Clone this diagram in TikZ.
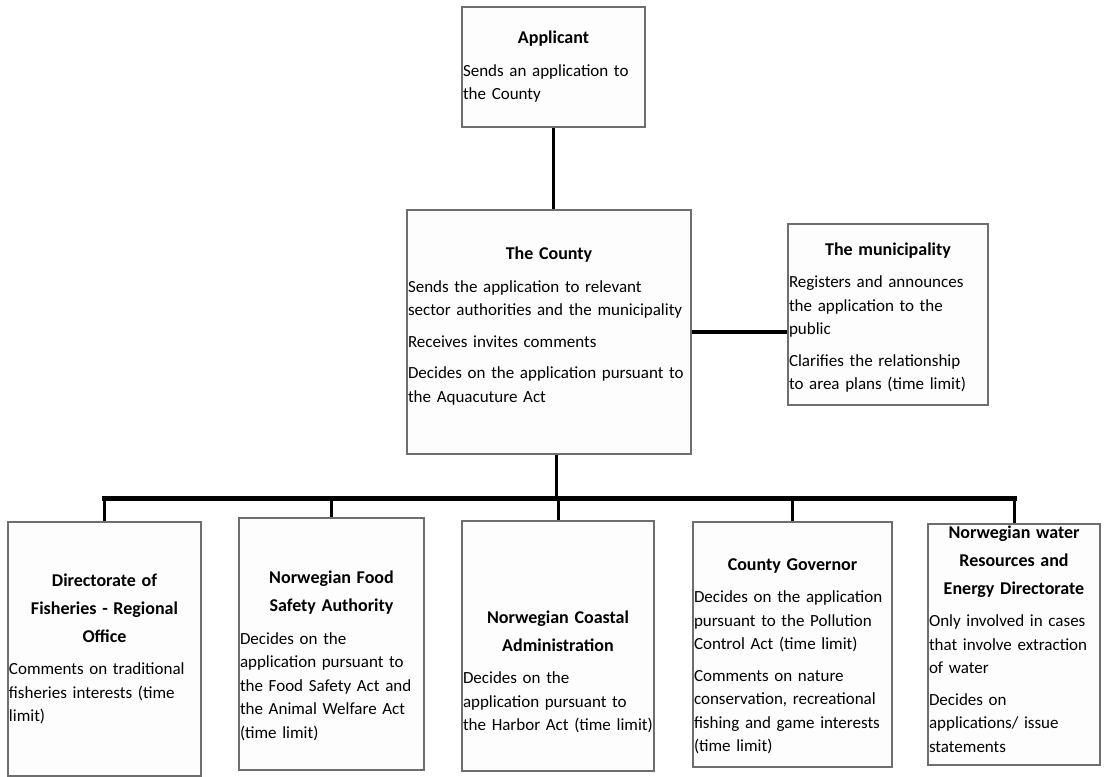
\documentclass[tikz,border=0pt]{standalone}
\usepackage{fontspec}
\setmainfont{Carlito}
\definecolor{boxline}{HTML}{6E6E6E}
\definecolor{boxfill}{HTML}{FDFDFD}
\newcommand{\boxtitle}[1]{{\centering\fontsize{18}{28}\selectfont\bfseries #1\par}\vspace{9pt}}
\newcommand{\boxgap}{\par\vspace{8pt}}
\tikzset{
  orgbox/.style={draw=boxline, fill=boxfill, line width=1.1pt, inner sep=0pt},
  orgtext/.style={inner xsep=1pt, inner ysep=0pt, align=left,
                  font=\fontsize{17}{23.5}\selectfont},
  link/.style={line width=3pt},
  busline/.style={line width=5pt, line cap=rect},
}

\begin{document}
\begin{tikzpicture}[x=1pt, y=-1pt]
  \useasboundingbox (0,0) rectangle (1104,777);

  % boxes
  \node[orgbox, minimum width=183pt, minimum height=120pt] (applicant) at (553.5,67) {};
  \node[orgbox, minimum width=284pt, minimum height=244pt] (county) at (549,332) {};
  \node[orgbox, minimum width=200pt, minimum height=181pt] (municipality) at (888,314.5) {};
  \node[orgbox, minimum width=193pt, minimum height=254pt] (dir) at (104.5,649) {};
  \node[orgbox, minimum width=185pt, minimum height=252pt] (food) at (331.5,644) {};
  \node[orgbox, minimum width=192pt, minimum height=250pt] (coast) at (558,646) {};
  \node[orgbox, minimum width=199pt, minimum height=245pt] (gov) at (792.5,644.5) {};
  \node[orgbox, minimum width=172pt, minimum height=241pt] (nve) at (1014,644.5) {};

  % texts
  \node[orgtext, text width=181pt] (applicanttxt) at (applicant) {%
    \boxtitle{Applicant}
    Sends an application to\\ the County};
  \node[orgtext, text width=282pt] (countytxt) at ([yshift=6pt]county) {%
    \boxtitle{The County}
    Sends the application to relevant\\ sector authorities and the municipality\boxgap
    Receives invites comments\boxgap
    Decides on the application pursuant to\\ the Aquacuture Act};
  \node[orgtext, text width=198pt] (municipalitytxt) at ([yshift=-3pt]municipality) {%
    \boxtitle{The municipality}
    Registers and announces\\ the application to the\\ public\boxgap
    Clarifies the relationship\\ to area plans (time limit)};
  \node[orgtext, text width=191pt] (dirtxt) at (dir) {%
    \boxtitle{Directorate of\\ Fisheries - Regional\\ Office}
    Comments on traditional\\ fisheries interests (time\\ limit)};
  \node[orgtext, text width=183pt] (foodtxt) at ([yshift=-12pt]food) {%
    \boxtitle{Norwegian Food\\ Safety Authority}
    Decides on the\\ application pursuant to\\ the Food Safety Act and\\ the Animal Welfare Act\\ (time limit)};
  \node[orgtext, text width=190pt] (coasttxt) at ([yshift=-26pt]coast) {%
    \boxtitle{Norwegian Coastal\\ Administration}
    Decides on the\\ application pursuant to\\ the Harbor Act (time limit)};
  \node[orgtext, text width=197pt] (govtxt) at ([yshift=-12pt]gov) {%
    \boxtitle{County Governor}
    Decides on the application\\ pursuant to the Pollution\\ Control Act (time limit)\boxgap
    Comments on nature\\ conservation, recreational\\ fishing and game interests\\ (time limit)};
  \node[orgtext, text width=170pt, anchor=north] (nvetxt) at ([yshift=-2pt]nve.north) {%
    \boxtitle{Norwegian water\\ Resources and\\ Energy Directorate}
    Only involved in cases\\ that involve extraction\\ of water\boxgap
    Decides on\\ applications/ issue\\ statements};

  % connectors
  \coordinate (bus) at (556,498);
  \draw[link] (applicant.south) -- (applicant.south |- county.north);
  \draw[link] (county.south -| bus) -- (bus);
  \draw[link, line width=4.5pt] (county.east) -- (municipality.west |- county.east);
  \draw[busline] (dir.north |- bus) -- (nve.north |- bus);
  \foreach \n in {dir, food, coast, gov, nve}
    \draw[link] (\n.north |- bus) -- (\n.north);
\end{tikzpicture}
\end{document}
